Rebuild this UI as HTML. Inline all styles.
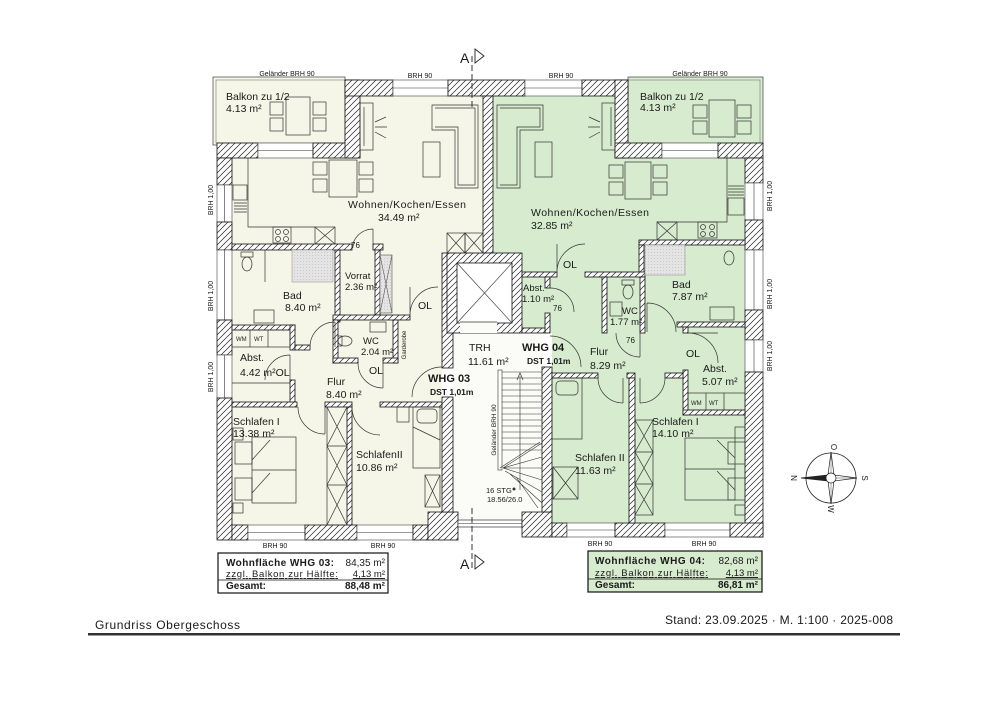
<!DOCTYPE html>
<html><head><meta charset="utf-8">
<style>
html,body{margin:0;padding:0;background:#fff}
svg{display:block}
text{font-family:"Liberation Sans",sans-serif;fill:#1a1a1a}
.w{fill:url(#h);stroke:#111;stroke-width:.8}
.win{fill:#fff;stroke:#444;stroke-width:.6}
.f{fill:none;stroke:#333;stroke-width:.7}
.fw{fill:#fff;stroke:#333;stroke-width:.7}
.fc{fill:none;stroke:#333;stroke-width:.6}
.r{font-size:10.5px}
.s{font-size:9.5px}
.t{font-size:7px}
.b{font-weight:bold}
</style></head><body>
<svg width="1000" height="707" viewBox="0 0 1000 707" xmlns="http://www.w3.org/2000/svg">
<defs>
<pattern id="h" width="6" height="6" patternUnits="userSpaceOnUse">
<rect width="6" height="6" fill="#fff"/>
<path d="M-1,1 L1,-1 M0,6 L6,0 M5,7 L7,5" stroke="#222" stroke-width=".7"/>
</pattern>
<pattern id="g" width="3" height="3" patternUnits="userSpaceOnUse">
<rect width="3" height="3" fill="#e4e4e4"/><rect width="1" height="1" fill="#c8c8c8"/>
</pattern>
</defs>
<rect width="1000" height="707" fill="#fff"/>

<!-- balconies -->
<rect x="213" y="77" width="132" height="68" fill="#f6f6e8" stroke="#555" stroke-width=".8"/>
<rect x="216" y="80" width="129" height="63" fill="#f6f6e8" stroke="#777" stroke-width=".6"/>
<rect x="628" y="77" width="135" height="68" fill="#d7ebcf" stroke="#555" stroke-width=".8"/>
<rect x="628" y="80" width="132" height="63" fill="#d7ebcf" stroke="#777" stroke-width=".6"/>

<!-- room fills -->
<polygon points="232,158 360,158 360,96 483,96 483,253 442,253 442,525 232,525" fill="#f6f6e8"/>
<polygon points="493,96 615,96 615,158 745,158 745,523 552,523 552,333 522,333 522,253 493,253" fill="#d7ebcf"/>
<rect x="453" y="332" width="89" height="192" fill="#fbfbf7"/>

<!-- outer walls -->
<rect class="w" x="217" y="143" width="41" height="15"/>
<rect class="win" x="258" y="143" width="55" height="15"/><line class="fc" x1="258" y1="150.5" x2="313" y2="150.5"/>
<rect class="w" x="313" y="143" width="47" height="15"/>
<rect class="w" x="345" y="80" width="15" height="78"/>
<rect class="w" x="345" y="80" width="48" height="16"/>
<rect class="win" x="393" y="80" width="55" height="16"/><line class="fc" x1="393" y1="88" x2="448" y2="88"/>
<rect class="w" x="448" y="80" width="77" height="16"/>
<rect class="win" x="525" y="80" width="57" height="16"/><line class="fc" x1="525" y1="88" x2="582" y2="88"/>
<rect class="w" x="582" y="80" width="46" height="16"/>
<rect class="w" x="615" y="80" width="13" height="78"/>
<rect class="w" x="615" y="143" width="47" height="15"/>
<rect class="win" x="662" y="143" width="56" height="15"/><line class="fc" x1="662" y1="150.5" x2="718" y2="150.5"/>
<rect class="w" x="718" y="143" width="45" height="15"/>
<!-- right wall -->
<rect class="w" x="745" y="158" width="18" height="25"/>
<rect class="win" x="745" y="183" width="18" height="37"/><line class="fc" x1="754" y1="183" x2="754" y2="220"/>
<rect class="w" x="745" y="220" width="18" height="30"/>
<rect class="win" x="745" y="250" width="18" height="60"/><line class="fc" x1="754" y1="250" x2="754" y2="310"/>
<rect class="w" x="745" y="310" width="18" height="30"/>
<rect class="win" x="745" y="340" width="18" height="32"/><line class="fc" x1="754" y1="340" x2="754" y2="372"/>
<rect class="w" x="745" y="372" width="18" height="165"/>
<!-- left wall -->
<rect class="w" x="217" y="158" width="15" height="27"/>
<rect class="win" x="217" y="185" width="15" height="37"/><line class="fc" x1="224.5" y1="185" x2="224.5" y2="222"/>
<rect class="w" x="217" y="222" width="15" height="28"/>
<rect class="win" x="217" y="250" width="15" height="70"/><line class="fc" x1="224.5" y1="250" x2="224.5" y2="320"/>
<rect class="w" x="217" y="320" width="15" height="35"/>
<rect class="win" x="217" y="355" width="15" height="43"/><line class="fc" x1="224.5" y1="355" x2="224.5" y2="398"/>
<rect class="w" x="217" y="398" width="15" height="142"/>
<!-- bottom wall -->
<rect class="w" x="232" y="525" width="16" height="15"/>
<rect class="win" x="248" y="525" width="57" height="15"/><line class="fc" x1="248" y1="532.5" x2="305" y2="532.5"/>
<rect class="w" x="305" y="525" width="52" height="15"/>
<rect class="win" x="357" y="525" width="56" height="15"/><line class="fc" x1="357" y1="532.5" x2="413" y2="532.5"/>
<rect class="w" x="413" y="525" width="15" height="15"/>
<rect class="w" x="428" y="512" width="30" height="28"/>
<rect class="fw" x="458" y="520" width="64" height="7"/>
<line class="fc" x1="458" y1="523.5" x2="522" y2="523.5"/>
<rect class="w" x="522" y="512" width="30" height="25"/>
<rect class="w" x="552" y="523" width="15" height="14"/>
<rect class="win" x="567" y="523" width="48" height="14"/><line class="fc" x1="567" y1="530" x2="615" y2="530"/>
<rect class="w" x="615" y="523" width="50" height="14"/>
<rect class="win" x="665" y="523" width="65" height="14"/><line class="fc" x1="665" y1="530" x2="730" y2="530"/>
<rect class="w" x="730" y="523" width="33" height="14"/>

<!-- interior walls left -->
<rect class="w" x="483" y="96" width="10" height="157"/>
<rect class="w" x="232" y="244" width="120" height="6"/>
<rect class="w" x="373" y="244" width="10" height="6"/>
<rect class="w" x="335" y="250" width="5" height="72"/>
<rect class="w" x="375" y="250" width="5" height="65"/>
<rect class="w" x="333" y="315" width="77" height="5"/>
<rect class="w" x="333" y="320" width="5" height="43"/>
<rect class="w" x="393" y="320" width="5" height="43"/>
<rect class="w" x="333" y="358" width="25" height="5"/>
<rect class="w" x="383" y="358" width="15" height="5"/>
<rect class="w" x="232" y="325" width="63" height="5"/>
<rect class="w" x="290" y="325" width="5" height="25"/>
<rect class="w" x="295" y="345" width="15" height="5"/>
<line class="f" x1="232" y1="383" x2="290" y2="383"/>
<rect class="w" x="290" y="380" width="5" height="23"/>
<rect class="w" x="232" y="402" width="65" height="5"/>
<rect class="w" x="325" y="402" width="27" height="5"/>
<rect class="w" x="347" y="407" width="5" height="118"/>
<rect class="w" x="380" y="402" width="62" height="5"/>
<!-- stair/elevator -->
<rect class="w" x="442" y="253" width="11" height="115"/>
<rect class="w" x="442" y="397" width="11" height="115"/>
<rect class="w" x="447" y="253" width="75" height="80"/>
<rect x="457" y="263" width="55" height="60" fill="#fff" stroke="#111" stroke-width=".8"/>
<rect x="460" y="322" width="37" height="11" fill="#fbfbf7"/>
<line class="f" x1="460" y1="322" x2="497" y2="322"/>
<line class="fc" x1="457" y1="263" x2="512" y2="323"/><line class="fc" x1="512" y1="263" x2="457" y2="323"/>
<rect class="w" x="542" y="367" width="10" height="145"/>

<!-- interior walls right -->
<rect class="w" x="639" y="240" width="106" height="5"/>
<rect class="w" x="639" y="245" width="5" height="32"/>
<rect class="w" x="522" y="272" width="35" height="5"/>
<rect class="w" x="585" y="272" width="60" height="5"/>
<rect class="w" x="545" y="277" width="5" height="11"/>
<rect class="w" x="545" y="313" width="5" height="20"/>
<rect class="w" x="522" y="328" width="23" height="5"/>
<rect class="w" x="602" y="277" width="5" height="56"/>
<rect class="w" x="640" y="277" width="5" height="56"/>
<rect class="w" x="677" y="322" width="68" height="5"/>
<rect class="w" x="683" y="327" width="5" height="6"/>
<rect class="w" x="683" y="370" width="5" height="45"/>
<rect class="w" x="683" y="410" width="62" height="5"/>
<rect class="w" x="552" y="373" width="46" height="5"/>
<rect class="w" x="627" y="373" width="8" height="5"/>
<rect class="w" x="665" y="373" width="18" height="5"/>
<rect class="w" x="629" y="378" width="6" height="145"/>

<!-- doors -->
<g class="f">
<path d="M352,250 A21,21 0 0 1 373,229 M373,229 V250"/>
<path d="M410,315 A28,28 0 0 1 438,287 M410,315 V287"/>
<path d="M358,363 A25,25 0 0 0 383,388 M383,363 V388"/>
<path d="M310,347 A25,25 0 0 1 335,322 M335,322 V347"/>
<path d="M265,380 A25,25 0 0 1 290,355 M290,355 V380"/>
<path d="M298,407 A27,27 0 0 0 325,434 M325,407 V434"/>
<path d="M352,407 A28,28 0 0 0 380,435 M352,407 V435"/>
<path d="M412,397 A30,30 0 0 1 442,367"/>
<path d="M550,336 A31,31 0 0 1 581,367"/>
<path d="M557,272 A28,28 0 0 1 585,244 M557,272 V244"/>
<path d="M550,288 A24,24 0 0 1 574,312"/>
<path d="M616,333 A24,24 0 0 0 640,357 M640,333 V357"/>
<path d="M647,303 A29,29 0 0 1 676,332 M647,303 V332"/>
<path d="M688,333 A30,30 0 0 1 718,363 M688,333 H718"/>
<path d="M598,378 A25,25 0 0 0 623,403 M623,378 V403"/>
<path d="M665,378 A25,25 0 0 1 640,403 M640,378 V403"/>
</g>

<!-- stairs -->
<g class="fc">
<rect x="498" y="370" width="4" height="100" fill="#fff"/>
<path d="M502,372 H542 M502,378 H542 M502,384 H542 M502,390 H542 M502,396 H542 M502,402 H542 M502,408 H542 M502,414 H542 M502,420 H542 M502,426 H542 M502,432 H542 M502,438 H542 M502,444 H542 M502,450 H542"/>
<path d="M503,468 L542,443 M503,468 L542,457 M503,468 L542,468 M503,468 L542,480 M505,471 L542,492 M510,474 L542,503 M516,477 L538,508"/>
<path d="M500,468 L540,442"/>
<line x1="520" y1="376" x2="520" y2="490"/>
</g>
<path d="M517,380 L520,373 L523,380" fill="none" stroke="#333" stroke-width=".7"/>
<circle cx="514" cy="489" r="1.5" fill="#333"/>

<!-- furniture left -->
<g class="f">
<rect x="286" y="97" width="24" height="38"/>
<rect x="270" y="102" width="13" height="13"/><rect x="270" y="118" width="13" height="13"/>
<rect x="313" y="102" width="13" height="13"/><rect x="313" y="118" width="13" height="13"/>
<rect x="329" y="160" width="28" height="37"/>
<rect x="313" y="162" width="14" height="13"/><rect x="313" y="179" width="14" height="13"/>
<rect x="359" y="162" width="14" height="13"/><rect x="359" y="179" width="14" height="13"/>
<path d="M432,105 H478 V188 H455 V130 H432 Z"/>
<path d="M435,108 H475 V185 H458 V127 H435"/>
<rect x="423" y="142" width="17" height="35"/>
<rect x="360" y="103" width="13" height="47"/><line x1="364" y1="107" x2="364" y2="146"/>
<path d="M375,122 L386,117 M375,127 L387,127 M375,132 L386,138"/>
<path d="M248,158 V227 H315"/>
<rect x="233" y="185" width="14" height="15"/>
<path d="M234,203 H247 M234,206 H247 M234,209 H247 M234,212 H247"/>
<rect x="273" y="227" width="18" height="16"/>
<circle cx="278" cy="232" r="2.5"/><circle cx="286" cy="232" r="2.5"/><circle cx="278" cy="239" r="2.5"/><circle cx="286" cy="239" r="2.5"/>
<rect x="315" y="227" width="20" height="17"/><path d="M315,227 L335,244 M335,227 L315,244"/>
<rect x="447" y="233" width="18" height="20"/><path d="M447,233 L465,253 M465,233 L447,253"/>
<rect x="465" y="233" width="18" height="20"/><path d="M465,233 L483,253 M483,233 L465,253"/>
<ellipse cx="247" cy="264" rx="5" ry="7"/><rect x="241" y="252" width="12" height="5"/>
<line x1="265" y1="250" x2="265" y2="282"/>
<rect x="254" y="310" width="20" height="13"/>
<rect x="232" y="330" width="58" height="17"/><line x1="250" y1="330" x2="250" y2="347"/><line x1="268" y1="330" x2="268" y2="347"/>
<ellipse cx="345" cy="341" rx="7" ry="5"/><rect x="338" y="336" width="4" height="10"/>
<rect x="370" y="322" width="16" height="10"/>
<rect x="252" y="437" width="44" height="66"/><line x1="252" y1="470" x2="296" y2="470"/>
<path d="M252,460 L270,440 M252,493 L270,473"/>
<rect x="235" y="442" width="17" height="22"/><rect x="235" y="478" width="17" height="22"/>
<rect x="233" y="428" width="10" height="12"/><rect x="233" y="503" width="10" height="10"/>
<rect x="327" y="407" width="20" height="118"/>
<path d="M327,407 L347,446 M347,407 L327,446 M327,446 L347,485 M347,446 L327,485 M327,485 L347,525 M347,485 L327,525"/>
<line x1="327" y1="446" x2="347" y2="446"/><line x1="327" y1="485" x2="347" y2="485"/>
<rect x="397" y="407" width="12" height="15"/>
<rect x="413" y="407" width="27" height="61"/><rect x="417" y="409" width="20" height="14" rx="4"/>
<path d="M413,427 L440,440"/>
<rect x="425" y="475" width="15" height="32"/><path d="M425,475 L440,507 M440,475 L425,507"/>
</g>
<rect x="292" y="250" width="41" height="32" fill="url(#g)" stroke="#888" stroke-width=".5"/>
<rect x="380" y="255" width="12" height="58" fill="url(#g)" stroke="#555" stroke-width=".6"/>
<path d="M380,255 L392,313 M392,255 L380,313" stroke="#555" stroke-width=".6"/>

<!-- furniture right -->
<g class="f">
<rect x="709" y="100" width="26" height="37"/>
<rect x="693" y="105" width="14" height="13"/><rect x="693" y="121" width="14" height="13"/>
<rect x="737" y="105" width="14" height="13"/><rect x="737" y="121" width="14" height="13"/>
<rect x="625" y="162" width="26" height="37"/>
<rect x="609" y="165" width="14" height="13"/><rect x="609" y="182" width="14" height="13"/>
<rect x="653" y="165" width="14" height="13"/><rect x="653" y="182" width="14" height="13"/>
<path d="M497,105 H543 V130 H520 V188 H497 Z"/>
<path d="M500,108 H540 V127 H517 V185 H500"/>
<rect x="535" y="142" width="17" height="35"/>
<rect x="602" y="103" width="13" height="47"/><line x1="611" y1="107" x2="611" y2="146"/>
<path d="M600,122 L589,117 M600,127 L588,127 M600,132 L589,138"/>
<path d="M727,155 V222 H657"/>
<rect x="728" y="198" width="16" height="17"/>
<path d="M728,186 H744 M728,189 H744 M728,192 H744 M728,195 H744"/>
<rect x="698" y="222" width="19" height="16"/>
<circle cx="703" cy="227" r="2.5"/><circle cx="712" cy="227" r="2.5"/><circle cx="703" cy="234" r="2.5"/><circle cx="712" cy="234" r="2.5"/>
<rect x="657" y="222" width="20" height="18"/><path d="M657,222 L677,240 M677,222 L657,240"/>
<ellipse cx="729" cy="258" rx="5" ry="7"/>
<rect x="710" y="307" width="24" height="13"/>
<ellipse cx="628" cy="292" rx="5" ry="7"/><rect x="622" y="280" width="12" height="5"/>
<rect x="610" y="302" width="12" height="14"/>
<rect x="688" y="393" width="57" height="17"/><line x1="706" y1="393" x2="706" y2="410"/><line x1="724" y1="393" x2="724" y2="410"/>
<rect x="685" y="438" width="50" height="62"/><line x1="685" y1="469" x2="735" y2="469"/>
<path d="M735,458 L717,440 M735,490 L717,471"/>
<rect x="728" y="442" width="17" height="22"/><rect x="728" y="478" width="17" height="22"/>
<rect x="735" y="427" width="10" height="11"/><rect x="735" y="505" width="10" height="10"/>
<rect x="635" y="420" width="18" height="95"/>
<path d="M635,420 L653,452 M653,420 L635,452 M635,452 L653,484 M653,452 L635,484 M635,484 L653,515 M653,484 L635,515"/>
<line x1="635" y1="452" x2="653" y2="452"/><line x1="635" y1="484" x2="653" y2="484"/>
<rect x="552" y="378" width="30" height="61"/><rect x="556" y="381" width="22" height="14" rx="4"/>
<rect x="553" y="467" width="25" height="32"/><path d="M553,467 L578,499 M578,467 L553,499"/>
</g>
<rect x="645" y="245" width="40" height="30" fill="url(#g)" stroke="#888" stroke-width=".5"/>

<!-- labels -->
<text class="t" x="287" y="76" text-anchor="middle">Geländer BRH 90</text>
<text class="t" x="700" y="76" text-anchor="middle">Geländer BRH 90</text>
<text class="t" x="420" y="78" text-anchor="middle">BRH 90</text>
<text class="t" x="561" y="78" text-anchor="middle">BRH 90</text>
<text class="t" x="275" y="548" text-anchor="middle">BRH 90</text>
<text class="t" x="383" y="548" text-anchor="middle">BRH 90</text>
<text class="t" x="600" y="546" text-anchor="middle">BRH 90</text>
<text class="t" x="704" y="546" text-anchor="middle">BRH 90</text>
<text class="t" transform="translate(213,200) rotate(-90)" text-anchor="middle">BRH 1,00</text>
<text class="t" transform="translate(213,296) rotate(-90)" text-anchor="middle">BRH 1,00</text>
<text class="t" transform="translate(213,377) rotate(-90)" text-anchor="middle">BRH 1,00</text>
<text class="t" transform="translate(772,196) rotate(-90)" text-anchor="middle">BRH 1,00</text>
<text class="t" transform="translate(772,294) rotate(-90)" text-anchor="middle">BRH 1,00</text>
<text class="t" transform="translate(772,356) rotate(-90)" text-anchor="middle">BRH 1,00</text>

<text class="r" x="226" y="100">Balkon zu 1/2</text>
<text class="r" x="226" y="112">4.13 m²</text>
<text class="r" x="640" y="100">Balkon zu 1/2</text>
<text class="r" x="640" y="111">4.13 m²</text>
<text class="r" x="348" y="208" textLength="118">Wohnen/Kochen/Essen</text>
<text class="r" x="378" y="221">34.49 m²</text>
<text class="r" x="531" y="216" textLength="118">Wohnen/Kochen/Essen</text>
<text class="r" x="531" y="229">32.85 m²</text>
<text class="t" x="351" y="248" style="font-size:8px">76</text>
<text class="s" x="345" y="279">Vorrat</text>
<text class="s" x="345" y="290">2.36 m²</text>
<text class="r" x="283" y="299">Bad</text>
<text class="r" x="285" y="311">8.40 m²</text>
<text class="r" x="418" y="309">OL</text>
<text class="s" x="363" y="344">WC</text>
<text class="s" x="361" y="355">2.04 m²</text>
<text transform="translate(406,345) rotate(-90)" text-anchor="middle" style="font-size:6px">Garderobe</text>
<text class="r" x="369" y="374">OL</text>
<text x="236" y="341" style="font-size:6px">WM</text>
<text x="254" y="341" style="font-size:6px">WT</text>
<text class="r" x="240" y="361">Abst.</text>
<text class="r" x="240" y="376">4.42 m²OL</text>
<text class="r" x="327" y="385">Flur</text>
<text class="r" x="326" y="398">8.40 m²</text>
<text class="r" x="233" y="425">Schlafen I</text>
<text class="r" x="233" y="437">13.38 m²</text>
<text class="r" x="356" y="458">SchlafenII</text>
<text class="r" x="356" y="471">10.86 m²</text>
<text class="b" x="428" y="382" style="font-size:11px">WHG 03</text>
<text class="b" x="430" y="395" style="font-size:8.5px">DST 1,01m</text>
<text class="r" x="469" y="351">TRH</text>
<text class="r" x="468" y="365">11.61 m²</text>
<text class="b" x="522" y="351" style="font-size:11px">WHG 04</text>
<text class="b" x="527" y="364" style="font-size:8.5px">DST 1,01m</text>
<text transform="translate(496,430) rotate(-90)" text-anchor="middle" style="font-size:6.5px">Geländer BRH 90</text>
<text x="486" y="493" style="font-size:7.5px">16 STG</text>
<text x="487" y="502" style="font-size:7.5px">18.56/26.0</text>
<text class="s" x="523" y="291">Abst.</text>
<text class="s" x="522" y="302">1.10 m²</text>
<text x="553" y="311" style="font-size:8px">76</text>
<text class="r" x="563" y="268">OL</text>
<text class="s" x="622" y="314">WC</text>
<text class="s" x="610" y="325">1.77 m²</text>
<text x="626" y="343" style="font-size:8px">76</text>
<text class="r" x="672" y="288">Bad</text>
<text class="r" x="672" y="300">7.87 m²</text>
<text class="r" x="590" y="355">Flur</text>
<text class="r" x="590" y="369">8.29 m²</text>
<text class="r" x="686" y="357">OL</text>
<text class="r" x="703" y="372">Abst.</text>
<text class="r" x="702" y="385">5.07 m²</text>
<text x="691" y="405" style="font-size:6px">WM</text>
<text x="709" y="405" style="font-size:6px">WT</text>
<text class="r" x="652" y="425">Schlafen I</text>
<text class="r" x="652" y="437">14.10 m²</text>
<text class="r" x="575" y="461">Schlafen II</text>
<text class="r" x="575" y="474">11.63 m²</text>

<!-- section markers -->
<text x="460" y="63" style="font-size:14px">A</text>
<path d="M475,49 L484,56 L475,63 Z" fill="none" stroke="#222" stroke-width=".9"/>
<line x1="472" y1="56" x2="472" y2="110" stroke="#222" stroke-width=".9" stroke-dasharray="6,3"/>
<text x="460" y="569" style="font-size:14px">A</text>
<path d="M475,555 L484,562 L475,569 Z" fill="none" stroke="#222" stroke-width=".9"/>
<line x1="472" y1="508" x2="472" y2="568" stroke="#222" stroke-width=".9" stroke-dasharray="6,3"/>

<!-- legends -->
<rect x="218" y="553" width="170" height="40" fill="#fff" stroke="#111" stroke-width="1.2"/>
<text class="b" x="226" y="566" style="font-size:10px" textLength="108">Wohnfläche WHG 03:</text>
<text x="385" y="566" text-anchor="end" style="font-size:10px">84,35 m²</text>
<text x="226" y="577" style="font-size:9.5px;text-decoration:underline" textLength="112">zzgl. Balkon zur Hälfte:</text>
<text x="385" y="577" text-anchor="end" style="font-size:9.5px;text-decoration:underline">4,13 m²</text>
<line x1="218" y1="580" x2="388" y2="580" stroke="#111" stroke-width=".8"/>
<text class="b" x="226" y="589" style="font-size:10px">Gesamt:</text>
<text class="b" x="385" y="589" text-anchor="end" style="font-size:10px">88,48 m²</text>

<rect x="588" y="551" width="174" height="41" fill="#d7ebcf" stroke="#111" stroke-width="1.2"/>
<text class="b" x="595" y="564" style="font-size:10px" textLength="110">Wohnfläche WHG 04:</text>
<text x="758" y="564" text-anchor="end" style="font-size:10px">82,68 m²</text>
<text x="595" y="576" style="font-size:9.5px;text-decoration:underline" textLength="113">zzgl. Balkon zur Hälfte:</text>
<text x="758" y="576" text-anchor="end" style="font-size:9.5px;text-decoration:underline">4,13 m²</text>
<line x1="588" y1="579" x2="762" y2="579" stroke="#111" stroke-width=".8"/>
<text class="b" x="595" y="588" style="font-size:10px">Gesamt:</text>
<text class="b" x="758" y="588" text-anchor="end" style="font-size:10px">86,81 m²</text>

<!-- compass -->
<circle cx="831" cy="478" r="25" fill="#fff" stroke="#222" stroke-width=".8"/>
<path d="M801,478 L828,475 L831,452 L834,475 L857,478 L834,481 L831,504 L828,481 Z" fill="#fff" stroke="#222" stroke-width=".7"/>
<path d="M801,478 L828,475 L828,481 Z" fill="#222"/>
<path d="M831,452 L831,504 M801,478 L857,478" stroke="#222" stroke-width=".4"/>
<circle cx="831" cy="478" r="5" fill="#fff" stroke="#222" stroke-width=".7"/>
<text transform="translate(791,478) rotate(90)" text-anchor="middle" style="font-size:8px">N</text>
<text transform="translate(831,447) rotate(90)" text-anchor="middle" style="font-size:8px">O</text>
<text transform="translate(862,478) rotate(90)" text-anchor="middle" style="font-size:8px">S</text>
<text transform="translate(828,509) rotate(90)" text-anchor="middle" style="font-size:8px">W</text>

<!-- footer -->
<text x="95" y="629" style="font-size:12px" textLength="145">Grundriss Obergeschoss</text>
<text x="665" y="624" style="font-size:12px" textLength="228">Stand: 23.09.2025 · M. 1:100 · 2025-008</text>
<rect x="88" y="633" width="812" height="2.5" fill="#333"/>
</svg>
</body></html>
